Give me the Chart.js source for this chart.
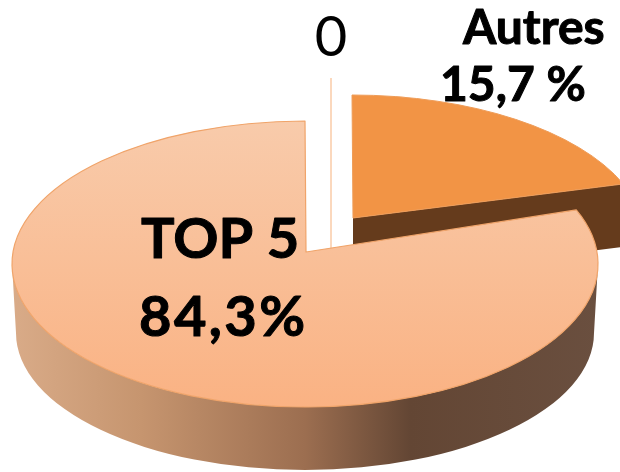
<!DOCTYPE html>
<html>
<head>
<meta charset="utf-8">
<style>html,body{margin:0;padding:0;background:#fff}#w{position:relative;width:620px;height:472px}</style>
<script src="https://cdn.jsdelivr.net/npm/chart.js@4"></script>
</head>
<body>
<div id="w"><canvas id="c" width="620" height="472"></canvas></div>
<script>
const categories = ['Autres', 'TOP 5', '0'];
const shares = [15.7, 84.3, 0];
const sliceColors = ['#f29445', '#f8bc96', '#fbd8bd'];

// Projection of the tilted 3D pie, relative to the chart centre
const foreshorten = 1.62, RX = 293/236, RY = 143/236, BX = 289/236, BY = 137/236;
const place = [
  {cx: 42, cy: 2, ax: 43, ay: -18, depth: 63},
  {cx: -5, cy: 28, ax: -4, ay: 16, depth: 69},
  {cx: 21, cy: -15, ax: 21, ay: 13, depth: 0}
];
const proj = t => { const a = t + Math.PI/2; return Math.atan2(foreshorten*Math.sin(a), Math.cos(a)) - Math.PI/2; };

function facePath(ctx, el, p, startPhi, endPhi) {
  const r = el.outerRadius, cx = el.x + p.cx, cy = el.y + p.cy;
  ctx.beginPath();
  ctx.moveTo(el.x + p.ax, el.y + p.ay);
  ctx.ellipse(cx, cy, r*RX, r*RY, 0, startPhi, endPhi);
  ctx.closePath();
}
function angles(el) {
  let s = proj(el.startAngle), e = proj(el.endAngle);
  while (e < s) e += Math.PI*2;
  return [s, e];
}
const pie3d = {
  id: 'pie3d',
  beforeDatasetDraw() { return false; },
  beforeDatasetsDraw(chart) {
    const ctx = chart.ctx, els = chart.getDatasetMeta(0).data;
    const [autres, top5, zero] = els;
    ctx.save();
    ctx.lineJoin = 'round';
    // Autres: cut wall then top
    {
      const p = place[0], r = autres.outerRadius;
      const [s, e] = angles(autres);
      const x0 = autres.x + p.ax, y0 = autres.y + p.ay;
      const x1 = autres.x + p.cx + r*RX*Math.cos(e), y1 = autres.y + p.cy + r*RY*Math.sin(e);
      ctx.beginPath();
      ctx.moveTo(x0, y0); ctx.lineTo(x1, y1); ctx.lineTo(x1, y1 + p.depth); ctx.lineTo(x0, y0 + p.depth); ctx.closePath();
      ctx.fillStyle = '#653b1c'; ctx.fill();
      facePath(ctx, autres, p, s, e);
      ctx.fillStyle = sliceColors[0]; ctx.fill();
      ctx.strokeStyle = '#ee9c58'; ctx.lineWidth = 1; ctx.stroke();
    }
    // zero-valued slice: a bare line
    {
      const p = place[2], r = zero.outerRadius;
      ctx.beginPath();
      ctx.moveTo(zero.x + p.ax, zero.y + p.ay);
      ctx.lineTo(zero.x + p.cx, zero.y + p.cy - r*RY);
      ctx.strokeStyle = sliceColors[2]; ctx.lineWidth = 2; ctx.stroke();
    }
    // TOP 5: outer wall then top
    {
      const p = place[1], r = top5.outerRadius;
      const cx = top5.x + p.cx, cy = top5.y + p.cy, rx = r*RX, ry = r*RY;
      const g = ctx.createLinearGradient(cx - rx, 0, cx + rx, 0);
      g.addColorStop(0, '#d9ab88');
      g.addColorStop(0.22, '#c6956f');
      g.addColorStop(0.5, '#9c6e50');
      g.addColorStop(0.68, '#634634');
      g.addColorStop(1, '#6a4f3f');
      ctx.beginPath();
      ctx.ellipse(cx, cy, rx, ry, 0, 0, Math.PI);
      ctx.ellipse(cx, cy + p.depth, r*BX, r*BY, 0, Math.PI, 0, true);
      ctx.closePath();
      ctx.fillStyle = g; ctx.fill();
      const [s, e] = angles(top5);
      facePath(ctx, top5, p, s, e);
      const t = ctx.createLinearGradient(0, cy - ry, 0, cy + ry);
      t.addColorStop(0, '#f8cbab');
      t.addColorStop(1, '#fab283');
      ctx.fillStyle = t; ctx.fill();
      ctx.strokeStyle = '#f0a46a'; ctx.lineWidth = 1.2; ctx.stroke();
    }
    ctx.restore();
  },
  afterDraw(chart) {
    const ctx = chart.ctx;
    const pct = (v, sep) => v.toFixed(1).replace('.', ',') + sep + '%';
    const bold = (text, x, y) => { ctx.fillText(text, x, y); ctx.strokeText(text, x, y); };
    ctx.save();
    ctx.fillStyle = '#000';
    ctx.strokeStyle = '#000';
    ctx.lineWidth = 1;
    ctx.lineJoin = 'round';
    ctx.textBaseline = 'alphabetic';
    ctx.textAlign = 'left';
    ctx.font = 'bold 56px Lato';
    bold(categories[1], 141, 258);
    ctx.letterSpacing = '2.4px';
    bold(pct(shares[1], ''), 139, 336);
    ctx.letterSpacing = '0px';
    ctx.font = 'bold 48px Lato';
    bold(categories[0], 463, 44);
    bold(pct(shares[0], ' '), 440, 101);
    ctx.font = '56px Lato';
    ctx.textAlign = 'center';
    ctx.fillText(categories[2], 331, 56);
    ctx.restore();
  }
};
new Chart(document.getElementById('c'), {
  type: 'pie',
  data: { labels: categories, datasets: [{ data: shares, backgroundColor: sliceColors, borderWidth: 0 }] },
  options: {
    responsive: false,
    animation: false,
    events: [],
    layout: { padding: 0 },
    plugins: { legend: { display: false }, tooltip: { enabled: false } }
  },
  plugins: [pie3d]
});
</script>
</body>
</html>
